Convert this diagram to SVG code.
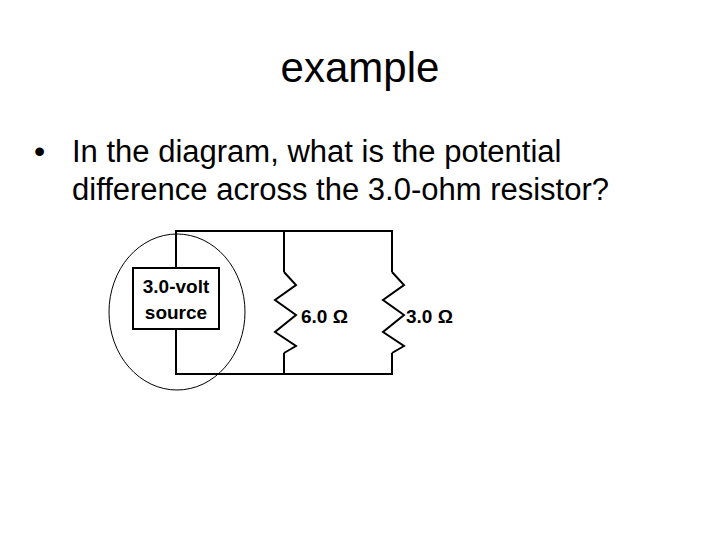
<svg xmlns="http://www.w3.org/2000/svg" width="720" height="540" viewBox="0 0 720 540">
<style>
.t{font-family:"Liberation Sans",Arial,sans-serif;fill:#000}
.w{fill:none;stroke:#000;stroke-width:2}
.b{font-family:"Liberation Sans",Arial,sans-serif;font-weight:bold;font-size:19px}
</style>
<rect width="720" height="540" fill="#fff"/>
<text class="t" x="360" y="82" font-size="42" text-anchor="middle">example</text>
<text class="t" x="34" y="162" font-size="32">•</text>
<text class="t" x="72" y="162" font-size="31">In the diagram, what is the potential</text>
<text class="t" x="72" y="200" font-size="31">difference across the 3.0-ohm resistor?</text>
<g id="connectors">
<path class="w" d="M176 268V231H392V272M392 353V374H176V329M284 231V272M284 353V374"/>
</g>
<g id="source">
<ellipse cx="177" cy="312" rx="68" ry="78" fill="none" stroke="#000" stroke-width="1"/>
<rect x="133" y="268" width="86" height="61" fill="#fff" stroke="#000" stroke-width="2"/>
<text class="b" x="176" y="293" text-anchor="middle" font-size="20">3.0-volt</text>
<text class="b" x="176" y="319" text-anchor="middle" font-size="20">source</text>
</g>
<g id="r6">
<polyline class="w" stroke-width="1.5" points="284,272 296,285 275,300 296,315 275,332 296,346 284,353"/>
<text class="b" x="301" y="323">6.0  Ω</text>
</g>
<g id="r3">
<polyline class="w" stroke-width="1.5" points="392,272 404,285 383,300 404,315 383,332 404,346 392,353"/>
<text class="b" x="406" y="323">3.0 Ω</text>
</g>
</svg>
